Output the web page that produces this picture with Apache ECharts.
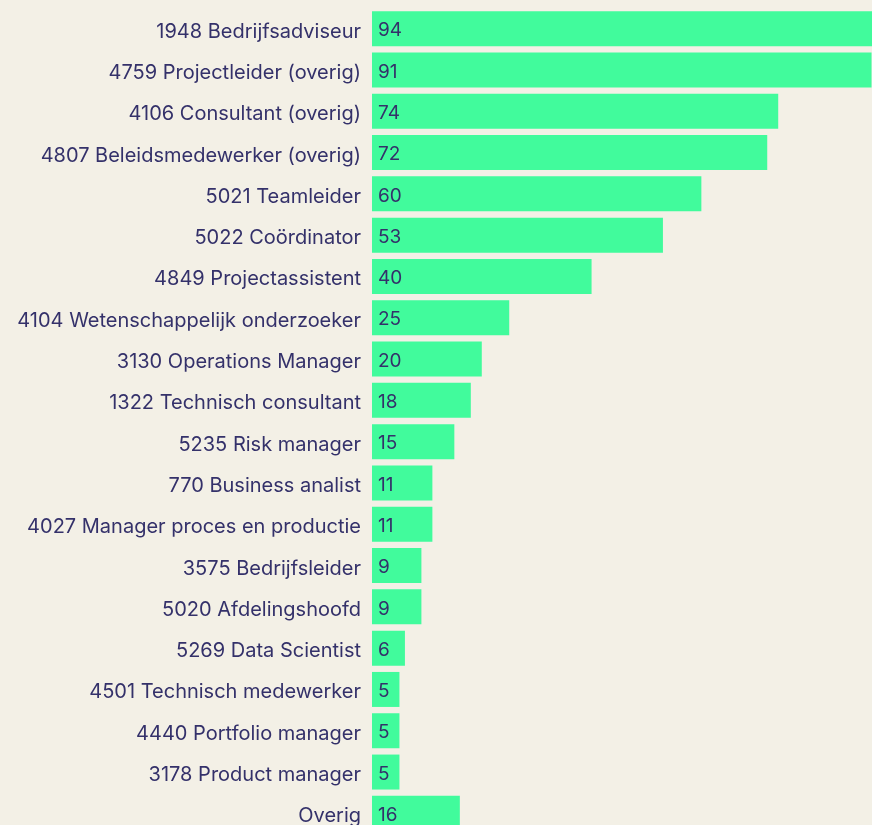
<!DOCTYPE html>
<html>
<head>
<meta charset="utf-8">
<script src="https://cdn.jsdelivr.net/npm/echarts@6/dist/echarts.min.js"></script>
<style>
  html, body { margin: 0; padding: 0; background: #f3f0e6; overflow: hidden; }
  /* grafiek loopt iets voorbij het venster, net als in het origineel */
  #chart { width: 888px; height: 834px; }
</style>
</head>
<body>
<div id="chart"></div>
<script>
// functies en aantallen, van boven naar beneden
const categories = [
  '1948 Bedrijfsadviseur',
  '4759 Projectleider (overig)',
  '4106 Consultant (overig)',
  '4807 Beleidsmedewerker (overig)',
  '5021 Teamleider',
  '5022 Coördinator',
  '4849 Projectassistent',
  '4104 Wetenschappelijk onderzoeker',
  '3130 Operations Manager',
  '1322 Technisch consultant',
  '5235 Risk manager',
  '770 Business analist',
  '4027 Manager proces en productie',
  '3575 Bedrijfsleider',
  '5020 Afdelingshoofd',
  '5269 Data Scientist',
  '4501 Technisch medewerker',
  '4440 Portfolio manager',
  '3178 Product manager',
  'Overig'
];
const counts = [94, 91, 74, 72, 60, 53, 40, 25, 20, 18, 15, 11, 11, 9, 9, 6, 5, 5, 5, 16];

const textColor = '#34316a';
const chart = echarts.init(document.getElementById('chart'));

chart.setOption({
  backgroundColor: '#f3f0e6',
  animation: false,
  grid: { left: 372, right: 0, top: 8, bottom: 0 },
  xAxis: {
    type: 'value',
    min: 0,
    max: 94,
    show: false
  },
  yAxis: {
    type: 'category',
    data: categories,
    inverse: true,
    axisLine: { show: false },
    axisTick: { show: false },
    axisLabel: {
      margin: 11,
      formatter: (v) => '{a|' + v + '}',
      rich: {
        a: {
          color: textColor,
          fontFamily: 'Inter',
          fontSize: 20,
          padding: [6, 0, 0, 0]
        }
      }
    }
  },
  series: [{
    type: 'bar',
    data: counts,
    barWidth: 35,
    itemStyle: { color: '#41fb9c' },
    label: {
      show: true,
      position: 'insideLeft',
      offset: [1, 2],
      color: textColor,
      fontFamily: 'Inter',
      fontSize: 19
    }
  }]
});
</script>
</body>
</html>
